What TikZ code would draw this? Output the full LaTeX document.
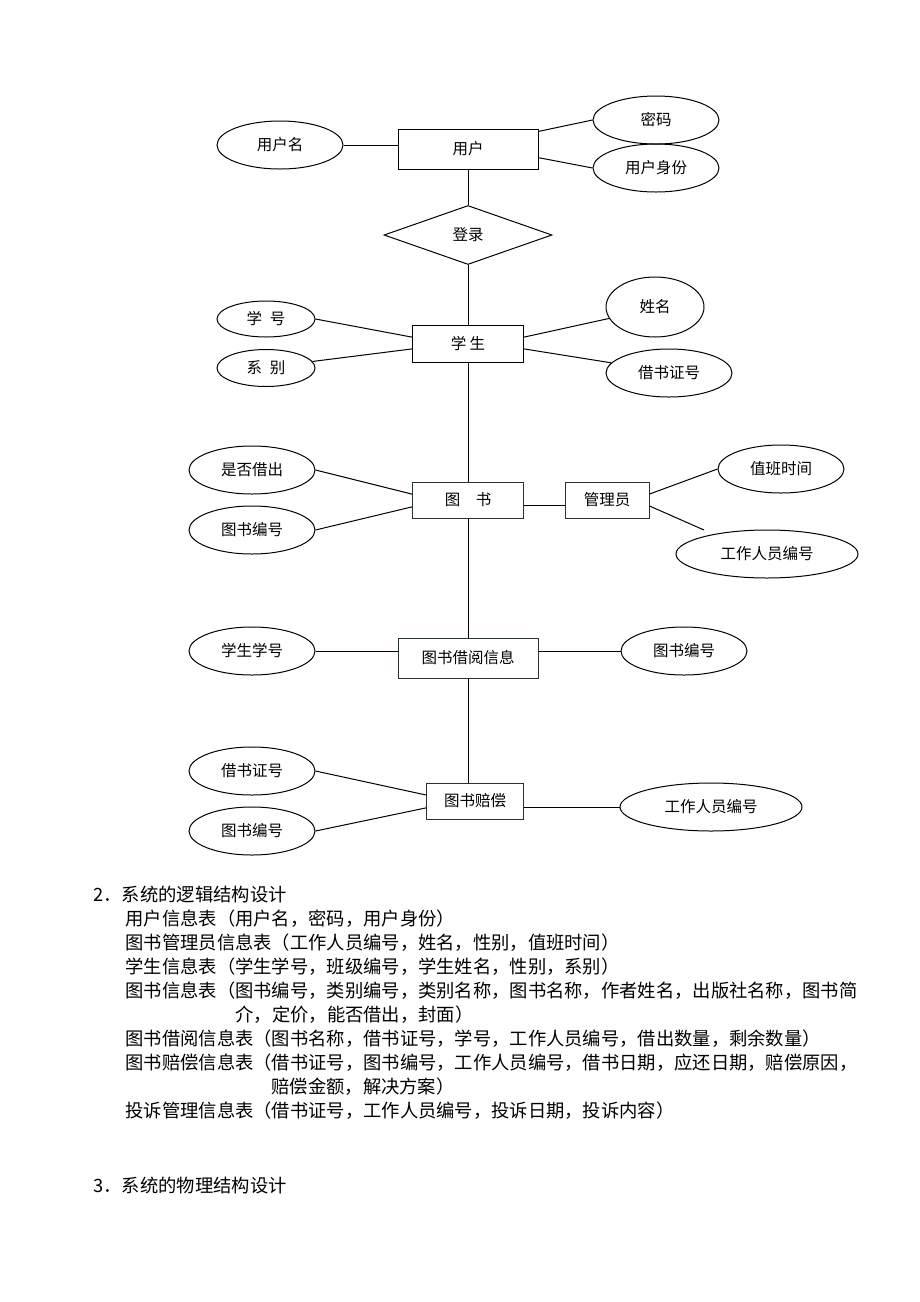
\documentclass[tikz,border=0pt]{standalone}
\usepackage{fontspec}
\setmainfont{Noto Sans CJK SC}
\usetikzlibrary{shapes.geometric}
\definecolor{boxline}{RGB}{40,52,40}
\tikzset{
	ent/.style={draw,rectangle,inner sep=0pt,font=\fontsize{15.5}{18}\selectfont},
	attr/.style={draw,ellipse,inner sep=0pt,minimum width=126pt,minimum height=48pt,font=\fontsize{15.5}{18}\selectfont},
	rel/.style={draw,diamond,inner sep=0pt,minimum width=168pt,minimum height=59pt,font=\fontsize{15.5}{18}\selectfont},
	txtline/.style={anchor=base west,inner sep=0pt,font=\fontsize{18.3}{24}\selectfont}
}
\begin{document}
\begin{tikzpicture}[x=1pt,y=-1pt,line width=1pt]
	\useasboundingbox (0,0) rectangle (920,1302);
	% E-R 图
	\node[ent,minimum width=140pt,minimum height=40pt] (yh) at (468,149) {用户};
	\node[attr] (yhm) at (280,145) {用户名};
	\node[attr] (mima) at (656,120) {密码};
	\node[attr] (sfen) at (656,168) {用户身份};
	\node[rel] (dl) at (468,235) {登录};
	\node[ent,minimum width=111pt,minimum height=37pt] (xs) at (468,344) {学 生};
	\node[attr,minimum width=98pt,minimum height=36pt] (xh) at (266,319) {学\enspace 号};
	\node[attr,minimum width=98pt,minimum height=37pt] (xb) at (266,368) {系\enspace 别};
	\node[attr,minimum width=98pt,minimum height=60pt] (xm) at (655,307) {姓名};
	\node[attr] (jzh) at (669,373) {借书证号};
	\node[ent,draw=boxline,minimum width=111pt,minimum height=36pt] (ts) at (468,500) {图　书};
	\node[attr] (sfjc) at (252,470) {是否借出};
	\node[attr] (tsbh) at (252,530) {图书编号};
	\node[ent,draw=boxline,minimum width=84pt,minimum height=36pt] (gly) at (607,500) {管理员};
	\node[attr] (zbsj) at (781,469) {值班时间};
	\node[attr,minimum width=182pt] (gzbh) at (767,554) {工作人员编号};
	\coordinate (glyend) at (704,530);
	\node[ent,draw=boxline,minimum width=140pt,minimum height=40pt] (jy) at (468,658) {图书借阅信息};
	\node[attr] (xsxh) at (252,651) {学生学号};
	\node[attr] (tsbhb) at (684,651) {图书编号};
	\node[ent,draw=boxline,minimum width=97pt,minimum height=36pt] (pc) at (475,801) {图书赔偿};
	\node[attr] (jzhb) at (252,771) {借书证号};
	\node[attr] (tsbhc) at (252,831) {图书编号};
	\node[attr,minimum width=182pt] (gzbhb) at (711,807) {工作人员编号};
	% 连线
	\draw (yhm.east) -- (yhm.east -| yh.west);
	\draw (yh.14) -- (mima.west);
	\draw (yh.-7) -- (sfen.west);
	\draw (yh.south) -- (dl.north);
	\draw (dl.south) -- (xs.north);
	\draw (xh.east) -- (xs.173);
	\draw (xb.8) -- (xs.185);
	\draw (xs.7) -- (xm.194);
	\draw (xs.-5) -- (jzh.170);
	\draw (xs.south) -- (ts.north);
	\draw (sfjc.east) -- (ts.174);
	\draw (tsbh.east) -- (ts.187);
	\draw (ts.-6) -- (ts.-6 -| gly.west);
	\draw (gly.8) -- (zbsj.west);
	\draw (gly.-8) -- (glyend);
	\draw (ts.south) -- (jy.north);
	\draw (xsxh.east) -- (xsxh.east -| jy.west);
	\draw (jy.east |- tsbhb.west) -- (tsbhb.west);
	\draw (jy.south) -- (jy.south |- pc.north);
	\draw (jzhb.east) -- (pc.173);
	\draw (tsbhc.east) -- (pc.188);
	\draw (pc.east |- gzbhb.west) -- (gzbhb.west);
	% 正文
	\node[txtline] (h2) at (93,901) {2．系统的逻辑结构设计};
	\node[txtline] (b1) at (125,925) {用户信息表（用户名，密码，用户身份）};
	\node[txtline] (b2) at (125,949) {图书管理员信息表（工作人员编号，姓名，性别，值班时间）};
	\node[txtline] (b3) at (125,973) {学生信息表（学生学号，班级编号，学生姓名，性别，系别）};
	\node[txtline] (b4) at (125,997) {图书信息表（图书编号，类别编号，类别名称，图书名称，作者姓名，出版社名称，图书简};
	\node[txtline] (b4b) at (235,1021) {介，定价，能否借出，封面）};
	\node[txtline] (b5) at (125,1045) {图书借阅信息表（图书名称，借书证号，学号，工作人员编号，借出数量，剩余数量）};
	\node[txtline] (b6) at (125,1069) {图书赔偿信息表（借书证号，图书编号，工作人员编号，借书日期，应还日期，赔偿原因，};
	\node[txtline] (b6b) at (271,1093) {赔偿金额，解决方案）};
	\node[txtline] (b7) at (125,1117) {投诉管理信息表（借书证号，工作人员编号，投诉日期，投诉内容）};
	\node[txtline] (h3) at (93,1192) {3．系统的物理结构设计};
\end{tikzpicture}
\end{document}
